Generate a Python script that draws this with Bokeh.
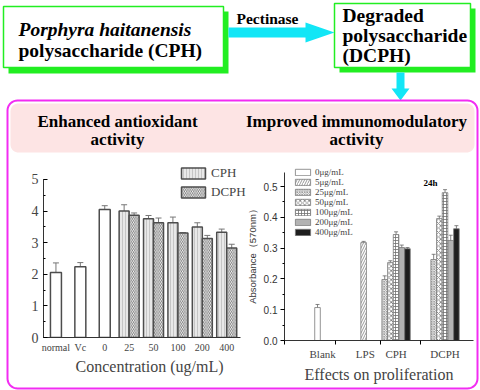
import numpy as np
from bokeh.plotting import figure
from bokeh.models import (Range1d, ColumnDataSource, Whisker, TeeHead, FixedTicker,
                          GridBox, PrintfTickFormatter, SingleIntervalTicker)
from bokeh.core.properties import value
from bokeh.embed import file_html
from bokeh.resources import INLINE

SERIF = "Liberation Serif"
SANS = "Liberation Sans"

# ---------------- data: antioxidant chart ----------------
ctrl_labels = ["normal", "Vc", "0"]
ctrl_vals = [2.06, 2.24, 4.05]
ctrl_err = [0.30, 0.13, 0.12]
conc_labels = ["25", "50", "100", "200", "400"]
cph_vals = [4.00, 3.76, 3.63, 3.50, 3.33]
cph_err = [0.20, 0.10, 0.18, 0.13, 0.10]
dcph_vals = [3.87, 3.63, 3.31, 3.13, 2.83]
dcph_err = [0.07, 0.15, 0.01, 0.10, 0.12]

# ---------------- data: proliferation chart ----------------
groups = ["Blank", "LPS", "CPH", "DCPH"]
blank_val, blank_err = 0.107, 0.010
lps_val, lps_err = 0.318, 0.004
series = ["25μg/mL", "50μg/mL", "100μg/mL", "200μg/mL", "400μg/mL"]
cph_abs = [0.198, 0.253, 0.344, 0.302, 0.298]
cph_abs_err = [0.012, 0.006, 0.009, 0.008, 0.004]
dcph_abs = [0.263, 0.396, 0.480, 0.325, 0.363]
dcph_abs_err = [0.017, 0.008, 0.010, 0.017, 0.010]

# ---------------- layout constants ----------------
GREEN = "#22ee22"
CYAN = "#12e6f6"
MAGENTA = "#f22cf2"
PINK = "#fde4e4"


def rrect(x0, y0, x1, y1, r, n=10):
    xs, ys = [], []
    for cx, cy, a0 in [(x1 - r, y0 + r, -90), (x1 - r, y1 - r, 0),
                       (x0 + r, y1 - r, 90), (x0 + r, y0 + r, 180)]:
        t = np.radians(np.linspace(a0, a0 + 90, n))
        xs.extend(cx + r * np.cos(t))
        ys.extend(cy + r * np.sin(t))
    return xs, ys


# ---------------- background / diagram ----------------
bg = figure(width=480, height=390, x_range=Range1d(0, 480), y_range=Range1d(390, 0),
            output_backend="svg", toolbar_location=None, min_border=0,
            x_axis_location=None, y_axis_location=None, frame_align=False,
            background_fill_color="white", border_fill_color="white", outline_line_color=None)
bg.grid.visible = False

# green boxes with shadow
bg.quad(left=[8, 339], right=[228, 475], top=[11, 8], bottom=[73, 72],
        fill_color=GREEN, line_color=None)
bg.quad(left=[3, 334], right=[223, 470], top=[6, 3], bottom=[67, 67],
        fill_color="white", line_color=GREEN, line_width=1.5)

# arrows
bg.patch([228, 305, 305, 334, 305, 305, 228], [27, 27, 22, 32, 42, 37, 37],
         fill_color=CYAN, line_color=None)
bg.patch([396, 404, 404, 409, 400, 391, 396], [72, 72, 88, 88, 100, 88, 88],
         fill_color=CYAN, line_color=None)

# pink container and header band
hx, hy = rrect(10, 103, 474, 152, 8)
bg.patch(hx, hy, fill_color=PINK, line_color=None)
px, py = rrect(7, 100, 477, 388, 10)
bg.patch(px, py, fill_color=None, line_color=MAGENTA, line_width=2)

tf = value(SERIF)
bg.text(x=[18], y=[29], text=["Porphyra haitanensis"], text_font=tf, text_font_size="19.5px",
        text_font_style="bold italic", text_baseline="middle", text_align="left")
bg.text(x=[18, 342, 342, 342], y=[50, 15, 35, 55],
        text=["polysaccharide (CPH)", "Degraded", "polysaccharide", "(DCPH)"],
        text_font=tf, text_font_size="19.5px", text_font_style="bold",
        text_baseline="middle", text_align="left")
bg.text(x=[267], y=[18], text=["Pectinase"], text_font=tf, text_font_size="15.5px",
        text_font_style="bold", text_baseline="middle", text_align="center")
bg.text(x=[117, 117, 356, 356], y=[121, 139, 121, 139],
        text=["Enhanced antioxidant", "activity", "Improved immunomodulatory", "activity"],
        text_font=tf, text_font_size="17px", text_font_style="bold",
        text_baseline="middle", text_align="center")
bg.text(x=[430], y=[182], text=["24h"], text_font=tf, text_font_size="9px",
        text_font_style="bold", text_baseline="middle", text_align="center")

# ---------------- left chart ----------------
left = figure(width=255, height=225, x_range=Range1d(-0.51, 8.18), y_range=Range1d(0, 5.6),
              output_backend="svg", toolbar_location=None, frame_align=False,
              min_border_left=43, min_border_right=0, min_border_top=0, min_border_bottom=48,
              background_fill_color=None, border_fill_color=None, outline_line_color=None)
left.grid.visible = False
EDGE = "#4d4d4d"
ctrl_x = np.arange(len(ctrl_labels))
pair_x = np.arange(len(ctrl_labels), len(ctrl_labels) + len(conc_labels))
off = 0.205
left.vbar(x=ctrl_x, top=ctrl_vals, width=0.45, fill_color="white", line_color=EDGE, line_width=1.5)
left.vbar(x=pair_x - off, top=cph_vals, width=0.41, fill_color="#e8e8e8", hatch_pattern="|",
          hatch_color="#c6c6c6", hatch_scale=3, hatch_weight=1, line_color=EDGE, line_width=1.5,
          legend_label="CPH")
left.vbar(x=pair_x + off, top=dcph_vals, width=0.41, fill_color="white", hatch_pattern="\\",
          hatch_color="#5a5a5a", hatch_scale=3.5, hatch_weight=0.8, line_color=EDGE, line_width=1.5,
          legend_label="DCPH")
lx = list(ctrl_x) + list(pair_x - off) + list(pair_x + off)
lv = ctrl_vals + cph_vals + dcph_vals
le = ctrl_err + cph_err + dcph_err
lsrc = ColumnDataSource(dict(x=lx, upper=[v + e for v, e in zip(lv, le)],
                             lower=[v - e for v, e in zip(lv, le)]))
left.add_layout(Whisker(base="x", upper="upper", lower="lower", source=lsrc, line_color="#777777",
                        upper_head=TeeHead(size=6, line_color="#777777"),
                        lower_head=TeeHead(size=6, line_color="#777777")))
xa = left.xaxis[0]
xa.ticker = FixedTicker(ticks=list(range(len(ctrl_labels) + len(conc_labels))))
xa.major_label_overrides = {i: lab for i, lab in enumerate(ctrl_labels + conc_labels)}
xa.bounds = (-0.51, 7.56)
xa.major_tick_in = 0
xa.major_tick_out = 0
xa.minor_tick_out = 0
xa.axis_line_color = "#333333"
xa.major_label_text_font = SERIF
xa.major_label_text_font_size = "10px"
xa.major_label_standoff = 4
xa.axis_label = "Concentration (ug/mL)"
xa.axis_label_text_font = SERIF
xa.axis_label_text_font_size = "16px"
xa.axis_label_text_font_style = "normal"
xa.axis_label_standoff = 2
ya = left.yaxis[0]
ya.ticker = SingleIntervalTicker(interval=1, num_minor_ticks=2)
ya.bounds = (0, 5)
ya.major_tick_in = 4
ya.major_tick_out = 0
ya.minor_tick_in = 2
ya.minor_tick_out = 0
ya.axis_line_color = "#333333"
ya.major_label_text_font = SERIF
ya.major_label_text_font_size = "14px"
ya.major_label_standoff = 5
lg = left.legend[0]
lg.location = (135, 137)
lg.label_text_font = SERIF
lg.label_text_font_size = "13px"
lg.glyph_width = 30
lg.glyph_height = 14
lg.label_height = 14
lg.spacing = 3
lg.padding = 0
lg.margin = 0
lg.label_standoff = 3
lg.border_line_color = None
lg.background_fill_alpha = 0

# ---------------- right chart ----------------
right = figure(width=240, height=225, x_range=Range1d(0, 33.2), y_range=Range1d(0, 0.562),
               output_backend="svg", toolbar_location=None, frame_align=False,
               min_border_left=44, min_border_right=7, min_border_top=7, min_border_bottom=45,
               background_fill_color=None, border_fill_color=None, outline_line_color=None)
right.grid.visible = False
group_pos = [6.7, 14.2, 19.6, 28.2]
blank_x, lps_x = 5.8, 13.9
slot = [-2, -1, 0, 1, 2]
bw = 0.98
OUT = "#7a7a7a"
styles = [
    dict(fill_color="#efefef", hatch_pattern="x", hatch_color="#8a8a8a", hatch_scale=2.5, hatch_weight=0.7),
    dict(fill_color="white", hatch_pattern="x", hatch_color="#707070", hatch_scale=4.5, hatch_weight=0.8),
    dict(fill_color="white", hatch_pattern="+", hatch_color="#707070", hatch_scale=3, hatch_weight=0.8),
    dict(fill_color="#b3b3b3"),
    dict(fill_color="#1e1e1e"),
]
right.vbar(x=[blank_x], top=[blank_val], width=bw, fill_color="white", line_color=OUT,
           line_width=0.8, legend_label="0μg/mL")
right.vbar(x=[lps_x], top=[lps_val], width=bw, fill_color="white", hatch_pattern="/",
           hatch_color="#808080", hatch_scale=5, hatch_weight=0.8, line_color=OUT,
           line_width=0.8, legend_label="5μg/mL")
rx, rv, re_ = [blank_x, lps_x], [blank_val, lps_val], [blank_err, lps_err]
for i, lab in enumerate(series):
    xs = [group_pos[2] + slot[i], group_pos[3] + slot[i]]
    right.vbar(x=xs, top=[cph_abs[i], dcph_abs[i]], width=bw, line_color=OUT, line_width=0.8,
               legend_label=lab, **styles[i])
    rx += xs
    rv += [cph_abs[i], dcph_abs[i]]
    re_ += [cph_abs_err[i], dcph_abs_err[i]]
rsrc = ColumnDataSource(dict(x=rx, upper=[v + e for v, e in zip(rv, re_)],
                             lower=[v - e for v, e in zip(rv, re_)]))
right.add_layout(Whisker(base="x", upper="upper", lower="lower", source=rsrc, line_color="#666666",
                         line_width=0.8,
                         upper_head=TeeHead(size=4, line_color="#666666", line_width=0.8),
                         lower_head=TeeHead(size=4, line_color="#666666", line_width=0.8)))
rxa = right.xaxis[0]
rxa.ticker = FixedTicker(ticks=group_pos, minor_ticks=[0, 8.9, 16.8, 23.9])
rxa.major_label_overrides = {p: g for p, g in zip(group_pos, groups)}
rxa.major_tick_in = 0
rxa.major_tick_out = 0
rxa.minor_tick_in = 0
rxa.minor_tick_out = 4
rxa.axis_line_color = "#333333"
rxa.major_label_text_font = SERIF
rxa.major_label_text_font_size = "11px"
rxa.major_label_standoff = 3
rxa.axis_label = "Effects on proliferation"
rxa.axis_label_text_font = SERIF
rxa.axis_label_text_font_size = "16px"
rxa.axis_label_text_font_style = "normal"
rxa.axis_label_standoff = 3
rya = right.yaxis[0]
rya.ticker = SingleIntervalTicker(interval=0.1, num_minor_ticks=2)
rya.formatter = PrintfTickFormatter(format="%.1f")
rya.bounds = (0, 0.545)
rya.major_tick_in = 0
rya.major_tick_out = 4
rya.minor_tick_in = 0
rya.minor_tick_out = 2
rya.axis_line_color = "#333333"
rya.major_label_text_font = SANS
rya.major_label_text_font_size = "10px"
rya.major_label_text_color = "#333333"
rya.major_label_standoff = 3
rya.axis_label = "Absorbance（570nm）"
rya.axis_label_text_font = SANS
rya.axis_label_text_font_size = "9.5px"
rya.axis_label_text_font_style = "normal"
rya.axis_label_text_color = "#333333"
rya.axis_label_standoff = 3
rlg = right.legend[0]
rlg.location = (9, 103)
rlg.label_text_font = SERIF
rlg.label_text_font_size = "9px"
rlg.glyph_width = 19
rlg.glyph_height = 8
rlg.label_height = 8
rlg.spacing = -1
rlg.padding = 0
rlg.margin = 0
rlg.label_standoff = 3
rlg.border_line_color = None
rlg.background_fill_alpha = 0

root = GridBox(children=[(bg, 0, 0, 3, 3), (left, 1, 0, 1, 2), (right, 1, 1, 1, 2)],
               rows=["160px", "225px", "5px"], cols=["240px", "15px", "225px"],
               styles={"position": "absolute", "left": "0px", "top": "0px"})

open("out.html", "w").write(file_html(root, INLINE))
